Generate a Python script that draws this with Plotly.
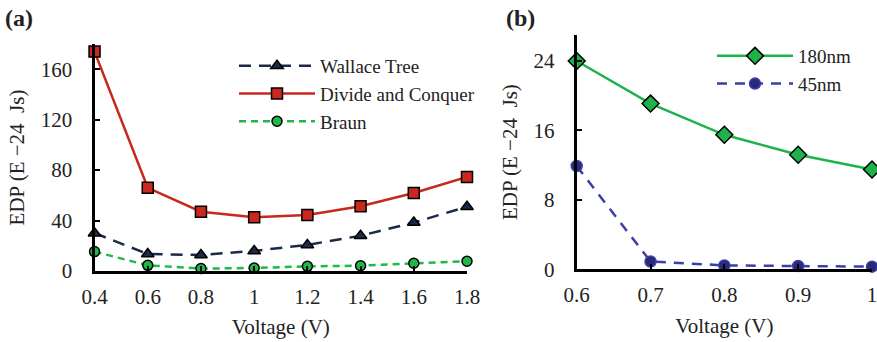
import plotly.graph_objects as go

# Panel (a)
voltage_a = [0.4, 0.6, 0.8, 1.0, 1.2, 1.4, 1.6, 1.8]
wallace = [30, 13.5, 12.7, 15.9, 20.7, 28, 38.4, 51]
divide_conquer = [174, 66, 47, 42.7, 44.5, 51.4, 61.8, 74.5]
braun = [15.4, 4.5, 1.9, 2.4, 3.7, 4.2, 6.1, 7.7]
ticks_a_x = [0.4, 0.6, 0.8, 1.0, 1.2, 1.4, 1.6, 1.8]
ticks_a_x_text = ["0.4", "0.6", "0.8", "1", "1.2", "1.4", "1.6", "1.8"]
ticks_a_y = [0, 40, 80, 120, 160]

# Panel (b)
voltage_b = [0.6, 0.7, 0.8, 0.9, 1.0]
nm180 = [24, 19.1, 15.5, 13.2, 11.5]
nm45 = [11.9, 0.9, 0.45, 0.38, 0.3]
ticks_b_x = [0.6, 0.7, 0.8, 0.9, 1.0]
ticks_b_x_text = ["0.6", "0.7", "0.8", "0.9", "1"]
ticks_b_y = [0, 8, 16, 24]

FONT = "Liberation Serif, Times New Roman, serif"
TXT = "#222"

fig = go.Figure()

fig.add_trace(go.Scatter(
    x=voltage_a, y=wallace, name="Wallace Tree", mode="lines+markers",
    line=dict(color="#1b2a48", width=2.5, dash="12px,8px"),
    marker=dict(symbol="triangle-up", size=11, color="#1b2a48", line=dict(color="black", width=1.5)),
    xaxis="x", yaxis="y", legend="legend", cliponaxis=False))
fig.add_trace(go.Scatter(
    x=voltage_a, y=divide_conquer, name="Divide and Conquer", mode="lines+markers",
    line=dict(color="#c8281e", width=2.5),
    marker=dict(symbol="square", size=11, color="#c8281e", line=dict(color="black", width=1.5)),
    xaxis="x", yaxis="y", legend="legend", cliponaxis=False))
fig.add_trace(go.Scatter(
    x=voltage_a, y=braun, name="Braun", mode="lines+markers",
    line=dict(color="#1fb84a", width=2.5, dash="7px,5px"),
    marker=dict(symbol="circle", size=10, color="#1fb84a", line=dict(color="black", width=1.5)),
    xaxis="x", yaxis="y", legend="legend", cliponaxis=False))

fig.add_trace(go.Scatter(
    x=voltage_b, y=nm180, name="180nm", mode="lines+markers",
    line=dict(color="#1db34a", width=2.5),
    marker=dict(symbol="diamond", size=13, color="#1db34a", line=dict(color="black", width=1.5)),
    xaxis="x2", yaxis="y2", legend="legend2", cliponaxis=False))
fig.add_trace(go.Scatter(
    x=voltage_b, y=nm45, name="45nm", mode="lines+markers",
    line=dict(color="#3a40a8", width=2.5, dash="10px,8px"),
    marker=dict(symbol="circle", size=11, color="#2a2a7a", line=dict(color="#3a40a8", width=1.5)),
    xaxis="x2", yaxis="y2", legend="legend2", cliponaxis=False))

axis_common = dict(showline=True, linecolor="black", linewidth=3, showgrid=False, zeroline=False,
                   ticks="inside", ticklen=5, tickwidth=2, tickcolor="black", automargin=False,
                   ticklabeloverflow="allow",
                   tickfont=dict(family=FONT, size=21, color=TXT))
title_font = dict(family=FONT, size=21, color=TXT)
ytitle = "EDP (E \u221224  Js)"

fig.update_layout(
    width=877, height=342,
    margin=dict(l=0, r=0, t=0, b=0),
    paper_bgcolor="white", plot_bgcolor="white",
    font=dict(family=FONT, color=TXT),
    xaxis=dict(domain=[0.1078, 0.5325], range=[0.4, 1.8], tickvals=ticks_a_x, ticktext=ticks_a_x_text,
               anchor="y", ticklabelstandoff=5,
               title=dict(text="Voltage (V)", font=title_font, standoff=12), **axis_common),
    yaxis=dict(domain=[0.2076, 0.8713], range=[0, 180], tickvals=ticks_a_y, anchor="x",
               ticklabelstandoff=15,
               title=dict(text=ytitle, font=title_font, standoff=11), **axis_common),
    xaxis2=dict(domain=[0.6576, 0.9943], range=[0.6, 1.0], tickvals=ticks_b_x, ticktext=ticks_b_x_text,
                anchor="y2", ticklabelstandoff=5,
                title=dict(text="Voltage (V)", font=title_font, standoff=12), **axis_common),
    yaxis2=dict(domain=[0.2126, 0.8977], range=[0, 27], tickvals=ticks_b_y, anchor="x2",
                ticklabelstandoff=15,
                title=dict(text=ytitle, font=title_font, standoff=11), **axis_common),
    legend=dict(x=234 / 877, y=1 - 47 / 342, xanchor="left", yanchor="top", xref="paper", yref="paper",
                font=dict(family=FONT, size=19, color=TXT), itemwidth=76, bgcolor="rgba(0,0,0,0)",
                tracegroupgap=0),
    legend2=dict(x=712 / 877, y=1 - 37 / 342, xanchor="left", yanchor="top", xref="paper", yref="paper",
                 font=dict(family=FONT, size=19, color=TXT), itemwidth=76, bgcolor="rgba(0,0,0,0)",
                 tracegroupgap=0),
    annotations=[
        dict(text="<b>(a)</b>", x=3 / 877, y=1 - 18 / 342, xref="paper", yref="paper",
             xanchor="left", yanchor="middle", showarrow=False, font=dict(family=FONT, size=24, color=TXT)),
        dict(text="<b>(b)</b>", x=504 / 877, y=1 - 18 / 342, xref="paper", yref="paper",
             xanchor="left", yanchor="middle", showarrow=False, font=dict(family=FONT, size=24, color=TXT)),
    ],
)

fig.write_html("out.html", config={"displayModeBar": False},
               post_script="document.body.style.margin='0';document.body.style.overflow='hidden';")
